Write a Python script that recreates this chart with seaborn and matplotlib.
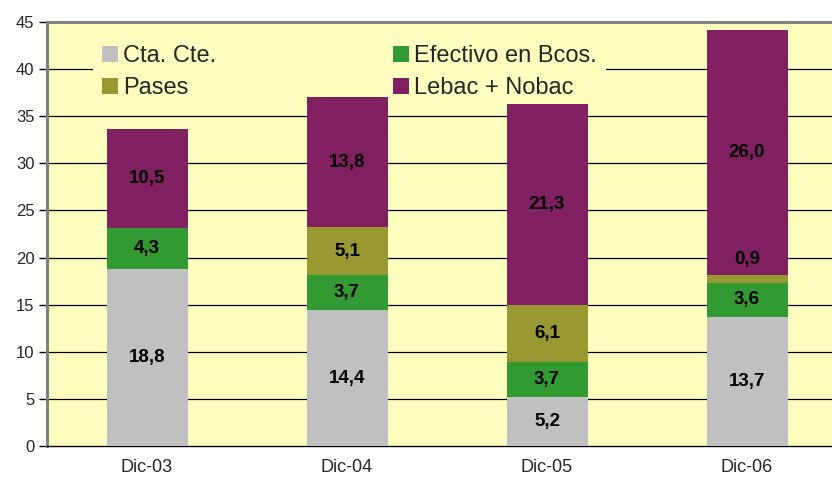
import matplotlib
matplotlib.use("Agg")
import matplotlib.pyplot as plt
import seaborn as sns
import numpy as np
import pandas as pd

categories = ["Dic-03", "Dic-04", "Dic-05", "Dic-06"]
series_names = ["Cta. Cte.", "Efectivo en Bcos.", "Pases", "Lebac + Nobac"]
cta_cte = [18.8, 14.4, 5.2, 13.7]
efectivo = [4.3, 3.7, 3.7, 3.6]
pases = [0.0, 5.1, 6.1, 0.9]
lebac = [10.5, 13.8, 21.3, 26.0]
y_ticks = [0, 5, 10, 15, 20, 25, 30, 35, 40, 45]

colors = {"Cta. Cte.": "#C0C0C0", "Efectivo en Bcos.": "#339933",
          "Pases": "#999933", "Lebac + Nobac": "#802060"}
bg = "#FFFFC0"

sns.set_style("white")
plt.rcParams["font.family"] = ["Liberation Sans", "DejaVu Sans"]

fig = plt.figure(figsize=(8.32, 4.82), dpi=100)
ax = fig.add_axes([47/832, 36/482, 800/832, 424/482])
ax.set_facecolor(bg)

values = {"Cta. Cte.": cta_cte, "Efectivo en Bcos.": efectivo,
          "Pases": pases, "Lebac + Nobac": lebac}
bottom = np.zeros(len(categories))
handles = {}
for name in series_names:
    vals = np.array(values[name], dtype=float)
    df = pd.DataFrame({"cat": categories, "val": vals})
    sns.barplot(data=df, x="cat", y="val", order=categories, color=colors[name],
                width=0.405, bottom=bottom, ax=ax, saturation=1, zorder=3,
                edgecolor="none", linewidth=0)
    cont = ax.containers[-1]
    labels = [("%.1f" % v).replace(".", ",") if v > 0 else "" for v in vals]
    anns = ax.bar_label(cont, labels=labels, label_type="center", fontsize=13.5,
                        fontweight="bold", color="black", zorder=5)
    # small segments: label sits just above the segment
    for a, v in zip(anns, vals):
        if 0 < v < 2:
            a.xyann = (0, 14)
    handles[name] = cont.patches[0]
    bottom = bottom + vals

ax.set_xlim(-0.5, 3.5)
ax.set_ylim(0, 45)
ax.set_yticks(y_ticks)
ax.set_yticklabels([str(t) for t in y_ticks], fontsize=12)
ax.set_xlabel("")
ax.set_ylabel("")
ax.tick_params(axis="x", which="major", length=0, labelsize=13, pad=9)
ax.set_xticks([-0.5, 0.5, 1.5, 2.5, 3.5], minor=True)
ax.tick_params(axis="x", which="minor", length=5, width=1, color="black", direction="out")
ax.tick_params(axis="y", which="major", length=6, width=1, color="black", direction="out",
               left=True, pad=3)

for t in y_ticks[1:-1]:
    ax.axhline(t, color="black", lw=0.9, zorder=1)

for s in ["top", "left"]:
    ax.spines[s].set_color("#808080")
    ax.spines[s].set_linewidth(2.2)
ax.spines["bottom"].set_color("black")
ax.spines["bottom"].set_linewidth(1)
ax.spines["right"].set_visible(False)

leg_order = ["Cta. Cte.", "Pases", "Efectivo en Bcos.", "Lebac + Nobac"]
leg = ax.legend([handles[n] for n in leg_order], leg_order, ncol=2, loc="upper left",
                bbox_to_anchor=(92.6/832, 1 - 35.6/482), bbox_transform=fig.transFigure,
                fontsize=17, frameon=True, facecolor=bg, edgecolor="none",
                framealpha=1, fancybox=False, handlelength=0.68, handleheight=0.68,
                handletextpad=0.2, columnspacing=7.5, labelspacing=0.44, borderpad=0.4,
                borderaxespad=0)
leg.set_zorder(2)

fig.savefig("out.png", dpi=100)
